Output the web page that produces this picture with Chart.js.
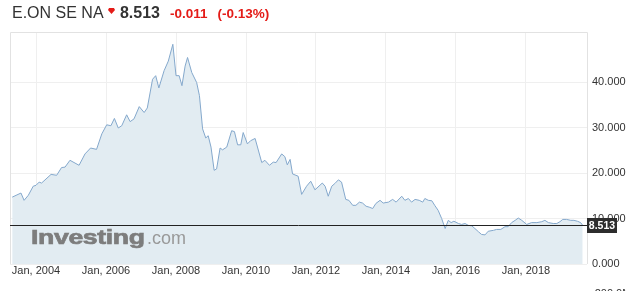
<!DOCTYPE html>
<html><head><meta charset="utf-8">
<script src="https://cdn.jsdelivr.net/npm/chart.js@4.4.0/dist/chart.umd.min.js"></script>
<style>
html,body{margin:0;padding:0;background:#fff;overflow:hidden;width:628px;height:291px;}
#wrap{position:relative;width:628px;height:291px;overflow:hidden;font-family:"Liberation Sans",Arial,sans-serif;}
canvas{position:absolute;left:0;top:0;}
#hdr{position:absolute;left:12px;top:4px;display:flex;align-items:baseline;white-space:nowrap;line-height:18px;}
#hdr .name{font-size:16px;color:#333;}
#hdr .last{font-size:16px;font-weight:bold;color:#333;margin-left:16.4px;}
#hdr .chg{font-size:13.5px;font-weight:bold;color:#e41b17;margin-left:10px;}
#hdr .pct{font-size:13.5px;font-weight:bold;color:#e41b17;margin-left:10px;}
#arrow{position:absolute;left:108px;top:8px;width:7px;height:6px;background:#e41b17;clip-path:polygon(15% 0,85% 0,100% 35%,50% 100%,0 35%);}
.wm1{position:absolute;left:31px;top:226px;font-size:21px;line-height:21px;font-weight:bold;color:#7d7d7d;-webkit-text-stroke:0.7px #7d7d7d;letter-spacing:-0.3px;transform:scaleX(1.27);transform-origin:left center;}
.wm2{position:absolute;left:147px;top:229px;font-size:18px;line-height:18px;color:#999;}
.vol{position:absolute;left:591px;top:287px;font-size:11px;line-height:13px;color:#333;}
</style></head>
<body><div id="wrap">
<canvas id="c" width="628" height="291"></canvas>
<div id="hdr"><span class="name" id="tName"></span><span class="last" id="tLast"></span><span class="chg" id="tChg"></span><span class="pct" id="tPct"></span></div>
<div id="arrow"></div>
<div class="wm1">Investing</div><div class="wm2">.com</div>
<div class="vol">-200.0M</div>
</div>
<script>
// ---- data ----
const instrument = "E.ON SE NA";
const lastPrice = 8.513;
const change = "-0.011";
const changePct = "(-0.13%)";
const dates = [2003.32,2003.57,2003.66,2003.78,2003.92,2004.00,2004.09,2004.16,2004.43,2004.59,2004.73,2004.83,2004.97,2005.23,2005.40,2005.56,2005.73,2005.88,2006.02,2006.14,2006.24,2006.35,2006.45,2006.59,2006.69,2006.80,2006.95,2007.09,2007.18,2007.33,2007.42,2007.51,2007.66,2007.78,2007.91,2008.00,2008.09,2008.17,2008.26,2008.33,2008.45,2008.59,2008.67,2008.76,2008.85,2008.92,2009.00,2009.09,2009.16,2009.26,2009.33,2009.45,2009.59,2009.67,2009.76,2009.85,2009.92,2010.04,2010.13,2010.26,2010.45,2010.54,2010.67,2010.78,2010.86,2011.02,2011.11,2011.18,2011.26,2011.33,2011.49,2011.59,2011.73,2011.85,2011.97,2012.18,2012.26,2012.35,2012.45,2012.54,2012.64,2012.73,2012.85,2012.94,2013.05,2013.14,2013.24,2013.33,2013.43,2013.52,2013.62,2013.71,2013.83,2013.92,2014.07,2014.19,2014.29,2014.45,2014.54,2014.64,2014.73,2014.83,2014.95,2015.05,2015.11,2015.21,2015.31,2015.40,2015.49,2015.59,2015.69,2015.78,2015.86,2015.94,2016.07,2016.16,2016.26,2016.35,2016.45,2016.54,2016.64,2016.73,2016.83,2016.92,2017.07,2017.16,2017.28,2017.40,2017.49,2017.59,2017.69,2017.78,2017.88,2018.02,2018.16,2018.31,2018.45,2018.54,2018.64,2018.78,2018.88,2018.97,2019.05,2019.16,2019.28,2019.37,2019.47,2019.56,2019.62];
const prices = [14.7,15.6,14.0,15.1,17.1,17.3,18.0,17.8,19.7,19.5,21.2,21.3,22.8,21.7,24.2,25.5,25.2,28.6,30.6,30.4,32.0,29.9,30.4,32.8,31.3,31.9,34.6,33.3,34.3,40.6,41.4,38.7,42.5,44.6,48.3,41.4,41.4,39.2,43.5,45.4,42.1,39.9,37.0,29.7,27.7,28.2,25.7,20.6,20.9,25.5,25.1,25.7,29.3,29.1,26.2,26.2,28.9,26.4,27.1,27.6,22.3,22.8,21.7,22.4,22.3,24.2,23.6,21.8,23.0,19.8,19.3,15.3,17.1,18.2,16.3,17.8,17.1,14.9,17.1,17.7,18.5,18.0,14.2,14.0,12.9,12.9,13.6,13.4,12.7,12.5,12.2,13.3,14.0,13.4,13.6,14.2,13.6,14.9,14.0,14.4,13.6,14.2,14.0,13.6,14.4,14.0,13.9,12.8,11.8,10.0,7.8,9.6,9.1,9.4,8.9,8.7,8.9,8.5,8.4,7.8,7.1,6.5,6.4,7.2,7.4,7.6,7.6,8.2,8.2,9.1,9.6,10.1,9.6,8.7,9.1,9.1,9.3,9.6,9.1,8.9,8.9,9.3,9.8,9.8,9.6,9.6,9.4,9.1,8.5];
const xTickYears = [2004,2006,2008,2010,2012,2014,2016,2018];
const yTickValues = [0,10,20,30,40];

document.getElementById('tName').textContent = instrument;
document.getElementById('tLast').textContent = lastPrice.toFixed(3);
document.getElementById('tChg').textContent = change;
document.getElementById('tPct').textContent = changePct;

const FONT = '"Liberation Sans", Arial, sans-serif';

const framePlugin = {
  id: 'frame',
  beforeDatasetsDraw(chart) {
    const {ctx, chartArea: a} = chart;
    ctx.save();
    ctx.strokeStyle = '#e2e2e2';
    ctx.lineWidth = 1;
    ctx.beginPath();
    ctx.moveTo(a.left + 0.5, a.bottom);
    ctx.lineTo(a.left + 0.5, a.top + 0.5);
    ctx.lineTo(a.right + 0.5, a.top + 0.5);
    ctx.lineTo(a.right + 0.5, a.bottom);
    ctx.stroke();
    ctx.restore();
  },
  afterDraw(chart) {
    const {ctx, chartArea: a, scales} = chart;
    const y = Math.round(scales.y.getPixelForValue(lastPrice)) + 0.5;
    ctx.save();
    ctx.strokeStyle = '#222';
    ctx.lineWidth = 1;
    ctx.beginPath();
    ctx.moveTo(a.left, y);
    ctx.lineTo(a.right, y);
    ctx.stroke();
    ctx.fillStyle = '#2d2d2d';
    ctx.fillRect(a.right, y - 7.5, 30, 15);
    ctx.fillStyle = '#fff';
    ctx.font = 'bold 10.5px ' + FONT;
    ctx.textBaseline = 'middle';
    ctx.textAlign = 'center';
    ctx.fillText(lastPrice.toFixed(3), a.right + 15, y + 0.5);
    ctx.restore();
  }
};

new Chart(document.getElementById('c'), {
  type: 'line',
  data: {
    datasets: [{
      data: dates.map((d, i) => ({x: d, y: prices[i]})),
      borderColor: '#84a8cc',
      borderWidth: 1,
      backgroundColor: '#e2ecf2',
      fill: 'origin',
      pointRadius: 0,
      tension: 0
    }]
  },
  options: {
    responsive: false,
    animation: false,
    events: [],
    layout: {padding: {left: 10, top: 32, right: 0, bottom: 0}},
    plugins: {legend: {display: false}, tooltip: {enabled: false}},
    scales: {
      x: {
        type: 'linear',
        min: 2003.257,
        max: 2019.743,
        afterBuildTicks: s => { s.ticks = xTickYears.map(v => ({value: v})); },
        afterFit: s => { s.height = 27; },
        grid: {color: '#efefef', drawTicks: false},
        border: {display: false},
        ticks: {
          autoSkip: false, maxRotation: 0, padding: 0,
          color: '#333', font: {family: FONT, size: 11},
          callback: v => 'Jan, ' + v
        }
      },
      y: {
        type: 'linear',
        position: 'right',
        min: 0,
        max: 51,
        afterBuildTicks: s => { s.ticks = yTickValues.map(v => ({value: v})); },
        afterFit: s => { s.width = 41; },
        grid: {color: '#efefef', drawTicks: false},
        border: {display: false},
        ticks: {
          padding: 5,
          color: '#333', font: {family: FONT, size: 11},
          callback: v => v.toFixed(3)
        }
      }
    }
  },
  plugins: [framePlugin]
});
</script>
</body></html>
